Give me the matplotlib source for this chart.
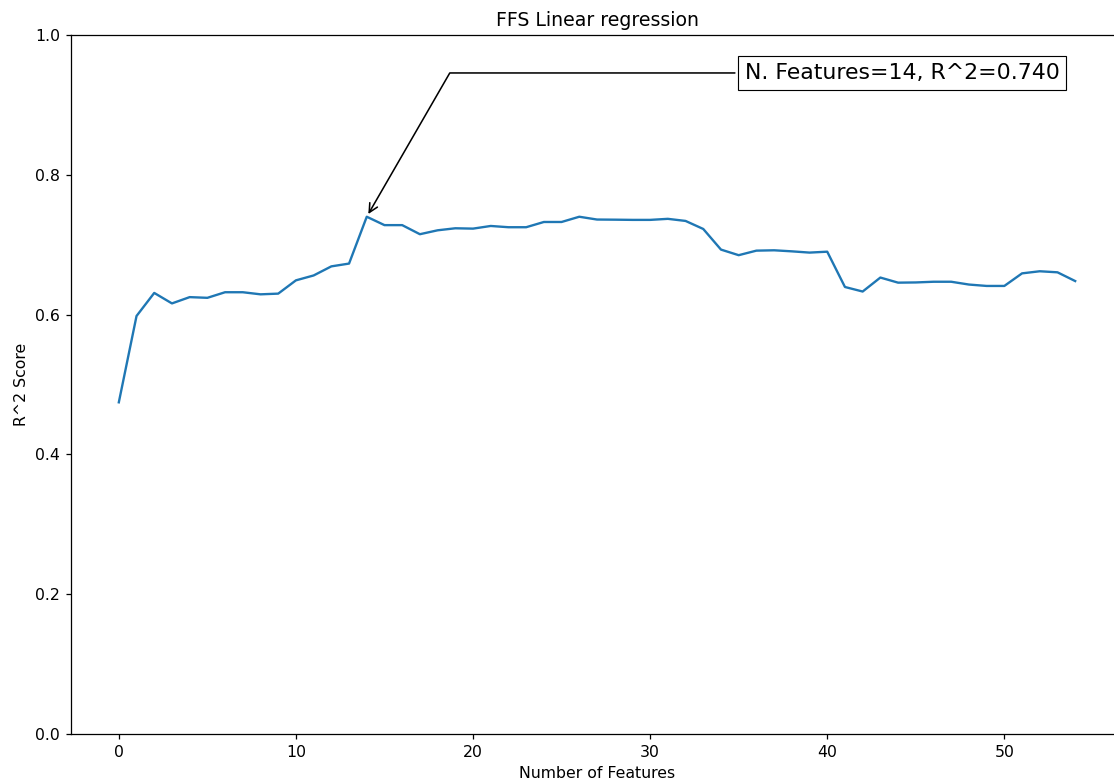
import numpy as np
import matplotlib
matplotlib.use("Agg")
import matplotlib.pyplot as plt

n_features = list(range(55))
r2_scores = [0.4745, 0.598, 0.631, 0.616, 0.625, 0.624, 0.632, 0.632, 0.629, 0.630,
             0.649, 0.656, 0.669, 0.673, 0.740, 0.728, 0.728, 0.715, 0.7206, 0.7235,
             0.723, 0.7268, 0.725, 0.725, 0.7325, 0.7325, 0.740, 0.736, 0.7358, 0.7355,
             0.7355, 0.737, 0.734, 0.7225, 0.693, 0.685, 0.6915, 0.692, 0.6905, 0.6887,
             0.690, 0.6395, 0.633, 0.653, 0.6457, 0.646, 0.647, 0.647, 0.643, 0.641,
             0.641, 0.659, 0.662, 0.6605, 0.648]

x = np.array(n_features)
y = np.array(r2_scores)

DPI = 113
fig = plt.figure(figsize=(1114 / DPI, 782 / DPI), dpi=DPI)
ax = fig.add_axes([71/1114, 48/782, 1052/1114, 699/782])
ax.plot(x, y)
ax.set_ylim(0, 1)
ax.set_title("FFS Linear regression")
ax.set_xlabel("Number of Features")
ax.set_ylabel("R^2 Score")

imax = int(np.argmax(y))
xmax, ymax = x[imax], y[imax]
text = "N. Features={}, R^2={:.3f}".format(xmax, ymax)
bbox_props = dict(boxstyle="square,pad=0.3", fc="w", ec="k", lw=0.72)
arrowprops = dict(arrowstyle="->", connectionstyle="angle,angleA=0,angleB=60")
ax.annotate(text, xy=(xmax, ymax), xycoords='data', xytext=(0.94, 0.96),
            textcoords="axes fraction", arrowprops=arrowprops, bbox=bbox_props,
            ha="right", va="top", fontsize=14)

fig.savefig("out.png", dpi=DPI)
